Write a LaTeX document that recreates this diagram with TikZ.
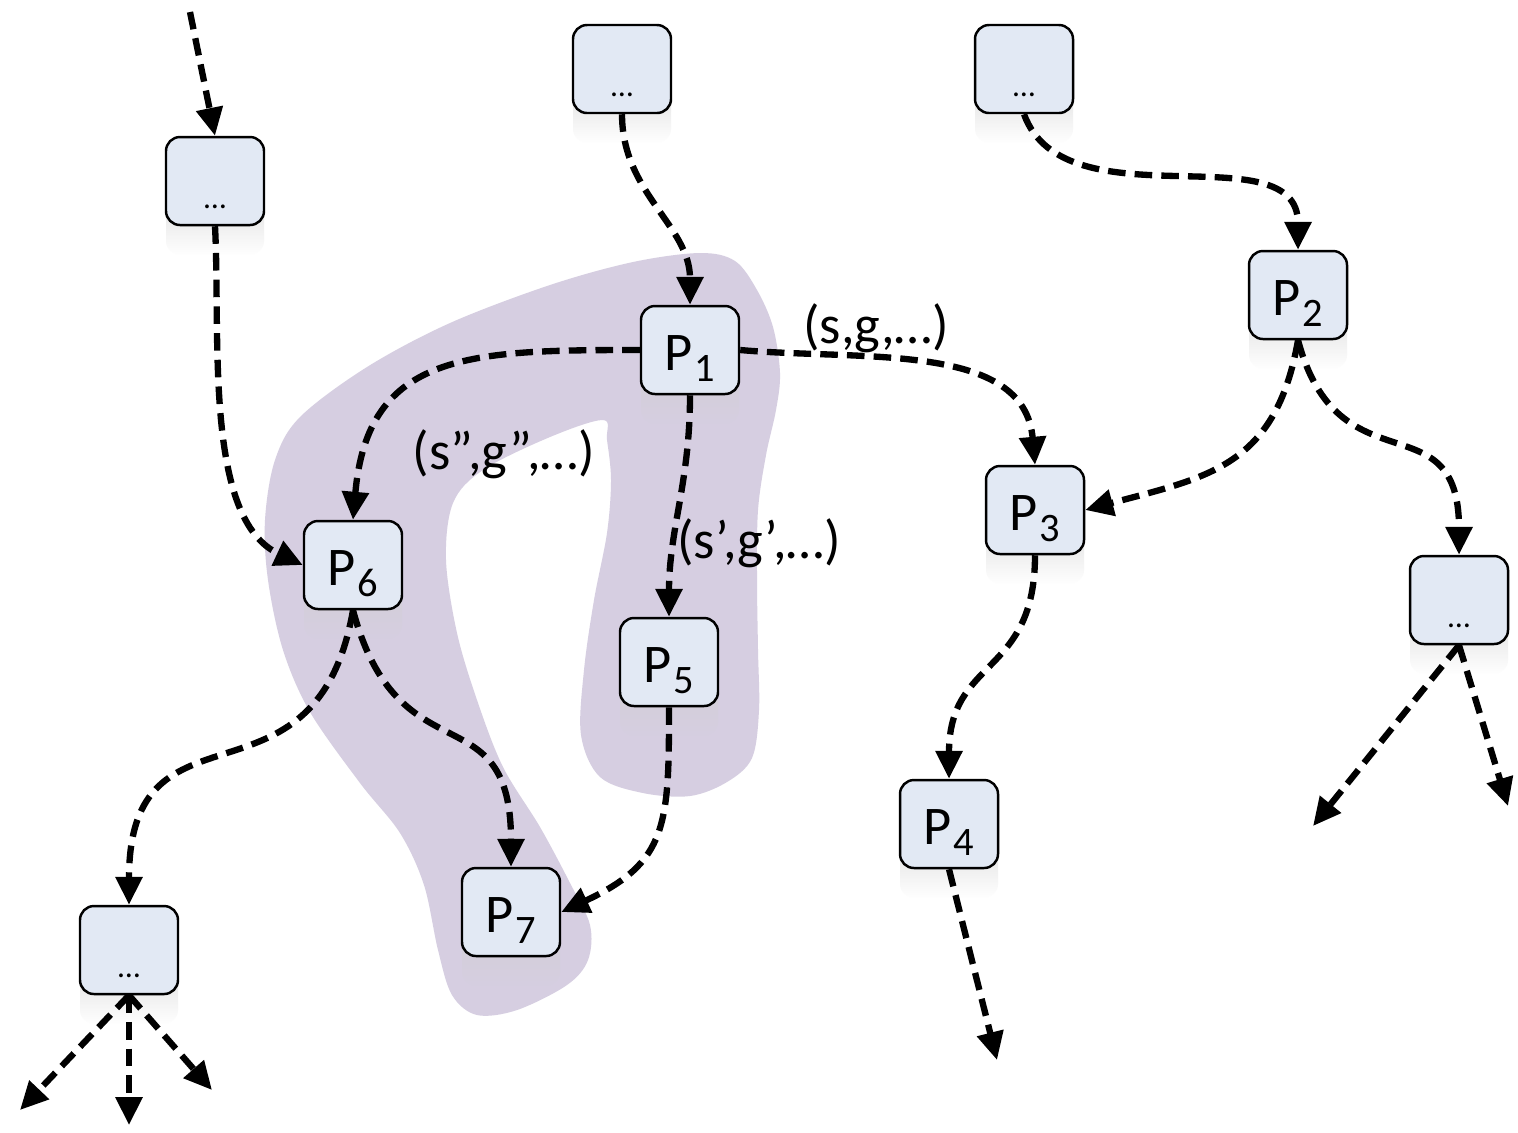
\documentclass[tikz,border=0pt]{standalone}
\usepackage{fontspec}
\setmainfont{Carlito}
\usetikzlibrary{arrows.meta, shadows, fadings, positioning}
\usepackage{xcolor}
\definecolor{procfill}{RGB}{226,233,244}
\definecolor{blobfill}{RGB}{214,206,225}
\newcommand{\procname}[1]{P\kern0.6pt\raisebox{-3.2pt}{\fontsize{11.5}{11.5}\selectfont #1}}
\tikzstyle{proc}    = [draw, line width=0.7pt, fill=procfill, rounded corners=1.4mm, minimum width=9.8mm, minimum height=8.8mm, inner sep=0pt, text height=4mm, text depth=0mm, font=\fontsize{15.5}{18}\selectfont, general shadow={fill=black!18, shadow yshift=-3mm, path fading=south}]
\tikzstyle{dots}    = [proc, text height=5.4mm, font=\fontsize{9}{9}\selectfont]
\tikzstyle{diredge} = [line width=1.8pt, dash pattern=on 5pt off 2.6pt, ->, >={Triangle[length=2.8mm,width=2.6mm]}]
\tikzstyle{lbl}     = [font=\fontsize{15.5}{18}\selectfont, inner sep=0pt]

\begin{document}
\begin{tikzpicture}[x=0.1mm, y=-0.1mm]

\useasboundingbox[fill=white] (0,0) rectangle (1518,1132);

\fill[blobfill] plot[smooth cycle, tension=0.55] coordinates {
  (700,253) (735,261) (757,290) (773,327) (780,373) (776,410) (766,455)
  (758,510) (757,580) (758,650) (759,710) (752,758) (727,782) (690,796)
  (643,793) (600,777) (581,735) (584,670) (594,600) (607,533) (611,480)
  (607,440) (603,420) (550,437) (483,470) (453,503) (446,560) (457,633)
  (477,700) (503,767) (540,827) (570,883) (590,925) (588,960) (567,985)
  (517,1010) (477,1015) (452,995) (438,950) (424,885) (400,833) (360,783)
  (310,712) (283,650) (268,580) (265,520) (275,460) (300,417) (367,367)
  (450,323) (550,285) (633,262)};

\node[dots] (A) at (215,181) {…};
\node[dots] (B) at (622,69) {…};
\node[dots] (C) at (1024,69) {…};
\node[dots] (D) at (1459,600) {…};
\node[dots] (E) at (129,950) {…};

\node[proc] (P1) at (690,350) {\procname{1}};
\node[proc] (P2) at (1298,295) {\procname{2}};
\node[proc] (P3) at (1035,510) {\procname{3}};
\node[proc] (P4) at (949,824) {\procname{4}};
\node[proc] (P5) at (669,662) {\procname{5}};
\node[proc] (P6) at (353,565) {\procname{6}};
\node[proc] (P7) at (511,912) {\procname{7}};

\coordinate (inA) at (190,12);
\coordinate (outD1) at (1313,826);
\coordinate (outD2) at (1508,806);
\coordinate (outP4) at (997,1060);
\coordinate (outE1) at (20,1110);
\coordinate (outE2) at (129,1125);
\coordinate (outE3) at (212,1090);

\draw[diredge] (inA) -- (A.north);
\draw[diredge] (A.south) to[out=-87,in=155,looseness=0.8] (P6.west);
\draw[diredge] (B.south) to[out=-90,in=90] (P1.north);
\draw[diredge] (C.south) to[out=-70,in=90] (P2.north);

\draw[diredge] (P1.east) to[out=-5,in=95] (P3.north);
\draw[diredge] (P1.west) to[out=180,in=85,looseness=1.3] (P6.north);
\draw[diredge] (P1.south) to[out=-90,in=90] (P5.north);

\draw[diredge] (P2.south) to[out=-100,in=15,looseness=1.2] (P3.east);
\draw[diredge] (P2.south) to[out=-75,in=90,looseness=1.5] (D.north);
\draw[diredge] (P3.south) to[out=-90,in=90,looseness=1.3] (P4.north);

\draw[diredge] (P6.south) to[out=-100,in=90,looseness=1.5] (E.north);
\draw[diredge] (P6.south) to[out=-75,in=90,looseness=1.5] (P7.north);
\draw[diredge] (P5.south) to[out=-90,in=25,looseness=1.3] (P7.east);

\draw[diredge] (D.south) -- (outD1);
\draw[diredge] (D.south) -- (outD2);
\draw[diredge] (P4.south) -- (outP4);
\draw[diredge] (E.south) -- (outE1);
\draw[diredge] (E.south) -- (outE2);
\draw[diredge] (E.south) -- (outE3);

\node[lbl] (l1) at (876,328) {(s,g,…)};
\node[lbl] (l2) at (504,454) {(s”,g”,…)};
\node[lbl] (l3) at (759,543) {(s’,g’,…)};

\end{tikzpicture}
\end{document}
